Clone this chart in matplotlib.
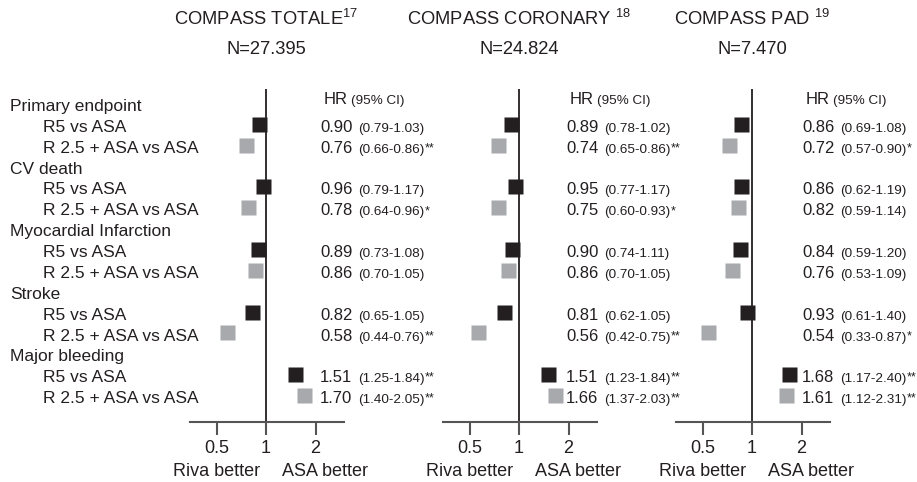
import matplotlib.pyplot as plt
from matplotlib.ticker import NullLocator
from matplotlib.transforms import blended_transform_factory, ScaledTranslation

plt.rcParams['font.family'] = ['Liberation Sans', 'DejaVu Sans']
plt.rcParams['mathtext.default'] = 'regular'

INK = '#231f20'
GREY = '#a7a9ac'
AXIS = '#555555'

# data
endpoints = ['Primary endpoint', 'CV death', 'Myocardial Infarction', 'Stroke', 'Major bleeding']
comparisons = ['R5 vs ASA', 'R 2.5 + ASA vs ASA']

studies = ['COMPASS TOTALE$^{17}$', 'COMPASS CORONARY $^{18}$', 'COMPASS PAD $^{19}$']
sizes = ['N=27.395', 'N=24.824', 'N=7.470']

# order per study: endpoint 1 (R5, R2.5+ASA), endpoint 2 (...), ...
hr_totale = [0.90, 0.76, 0.96, 0.78, 0.89, 0.86, 0.82, 0.58, 1.51, 1.70]
ci_totale = ['0.79-1.03', '0.66-0.86', '0.79-1.17', '0.64-0.96', '0.73-1.08',
             '0.70-1.05', '0.65-1.05', '0.44-0.76', '1.25-1.84', '1.40-2.05']
sig_totale = ['', '**', '', '*', '', '', '', '**', '**', '**']

hr_coronary = [0.89, 0.74, 0.95, 0.75, 0.90, 0.86, 0.81, 0.56, 1.51, 1.66]
ci_coronary = ['0.78-1.02', '0.65-0.86', '0.77-1.17', '0.60-0.93', '0.74-1.11',
               '0.70-1.05', '0.62-1.05', '0.42-0.75', '1.23-1.84', '1.37-2.03']
sig_coronary = ['', '**', '', '*', '', '', '', '**', '**', '**']

hr_pad = [0.86, 0.72, 0.86, 0.82, 0.84, 0.76, 0.93, 0.54, 1.68, 1.61]
ci_pad = ['0.69-1.08', '0.57-0.90', '0.62-1.19', '0.59-1.14', '0.59-1.20',
          '0.53-1.09', '0.61-1.40', '0.33-0.87', '1.17-2.40', '1.12-2.31']
sig_pad = ['', '*', '', '', '', '', '', '*', '**', '**']

hrs = [hr_totale, hr_coronary, hr_pad]
cis = [ci_totale, ci_coronary, ci_pad]
sigs = [sig_totale, sig_coronary, sig_pad]

ticks = [0.5, 1, 2]
tick_labels = ['0.5', '1', '2']

fig = plt.figure(figsize=(9.17, 4.82), dpi=100)

# panel placement (figure fractions)
lefts = [0.2072, 0.4831, 0.7372]
text_dx = [54, 47, 50]  # px from the x=1 line to the HR numbers

# row indexes: header rows and comparison rows
rows_sub = []
rows_head = []
r = 0
for e in endpoints:
    rows_head.append(r)
    rows_sub.append(r + 1)
    rows_sub.append(r + 2)
    r += 3

BASE = 0.29  # baseline offset (rows) so text sits centred on the row


def shift(ax, px):
    return ax.transData + ScaledTranslation(px / 100, 0, fig.dpi_scale_trans)


axes = []
for k in range(3):
    ax = fig.add_axes([lefts[k], 0.1245, 0.168, 0.6909])
    axes.append(ax)
    # no background patch, otherwise the next panel hides the text on its left
    ax.patch.set_visible(False)
    ax.set_xscale('log')
    ax.set_xlim(0.345, 2.98)
    ax.set_ylim(15.196, -0.767)
    ax.set_xticks(ticks)
    ax.set_xticklabels(tick_labels)
    ax.xaxis.set_minor_locator(NullLocator())
    ax.set_yticks([])
    for s in ['left', 'right', 'top']:
        ax.spines[s].set_visible(False)
    ax.spines['bottom'].set_color(AXIS)
    ax.spines['bottom'].set_linewidth(1.5)
    ax.tick_params(axis='x', length=9, width=1.5, color=AXIS, pad=4,
                   labelsize=13, labelcolor=INK)
    ax.axvline(1, color=INK, lw=1.3, zorder=1)

    colors = [INK, GREY] * len(endpoints)
    for j in range(len(rows_sub)):
        ax.plot(hrs[k][j], rows_sub[j] - 0.1, 's', ms=10.8, color=colors[j],
                mec='none', clip_on=False, zorder=3)

        t = ax.text(1, rows_sub[j] + BASE, '%.2f' % hrs[k][j], fontsize=12,
                    color=INK, va='baseline', ha='left',
                    transform=shift(ax, text_dx[k]))
        c = ax.text(1, rows_sub[j] + BASE, '(' + cis[k][j] + ')', fontsize=9.7,
                    color=INK, va='baseline', ha='left',
                    transform=shift(ax, text_dx[k] + 38))
        if sigs[k][j]:
            ax.annotate(sigs[k][j], xy=(1, 1), xycoords=c, xytext=(0.3, 1),
                        textcoords='offset points', fontsize=9, color=INK,
                        va='top', ha='left')

    # column header
    ax.text(1, -0.34 + BASE, 'HR', fontsize=12, color=INK, va='baseline',
            ha='left', transform=shift(ax, text_dx[k] + 4))
    ax.text(1, -0.34 + BASE, '(95% CI)', fontsize=9.7, color=INK,
            va='baseline', ha='left', transform=shift(ax, text_dx[k] + 31))

    # study titles
    tr = blended_transform_factory(ax.transData, fig.transFigure)
    ax.text(1, 0.949, studies[k], fontsize=13.2, color=INK, ha='center',
            va='baseline', transform=tr)
    ax.text(1, 0.889, sizes[k], fontsize=13.2, color=INK, ha='center',
            va='baseline', transform=tr)

    ax.text(0.5, 0.0124, 'Riva better', fontsize=13, color=INK, ha='center',
            va='baseline', transform=tr)
    ax.text(2.28, 0.0124, 'ASA better', fontsize=13, color=INK, ha='center',
            va='baseline', transform=tr)

# row labels on the left
lab_tr = blended_transform_factory(fig.transFigure, axes[0].transData)
for i, e in enumerate(endpoints):
    axes[0].text(10 / 917, rows_head[i] + BASE, e, fontsize=12.5, color=INK,
                 va='baseline', ha='left', transform=lab_tr)
for j in range(len(rows_sub)):
    axes[0].text(43 / 917, rows_sub[j] + BASE, comparisons[j % 2], fontsize=12.5,
                 color=INK, va='baseline', ha='left', transform=lab_tr)

fig.savefig('out.png', dpi=100)
